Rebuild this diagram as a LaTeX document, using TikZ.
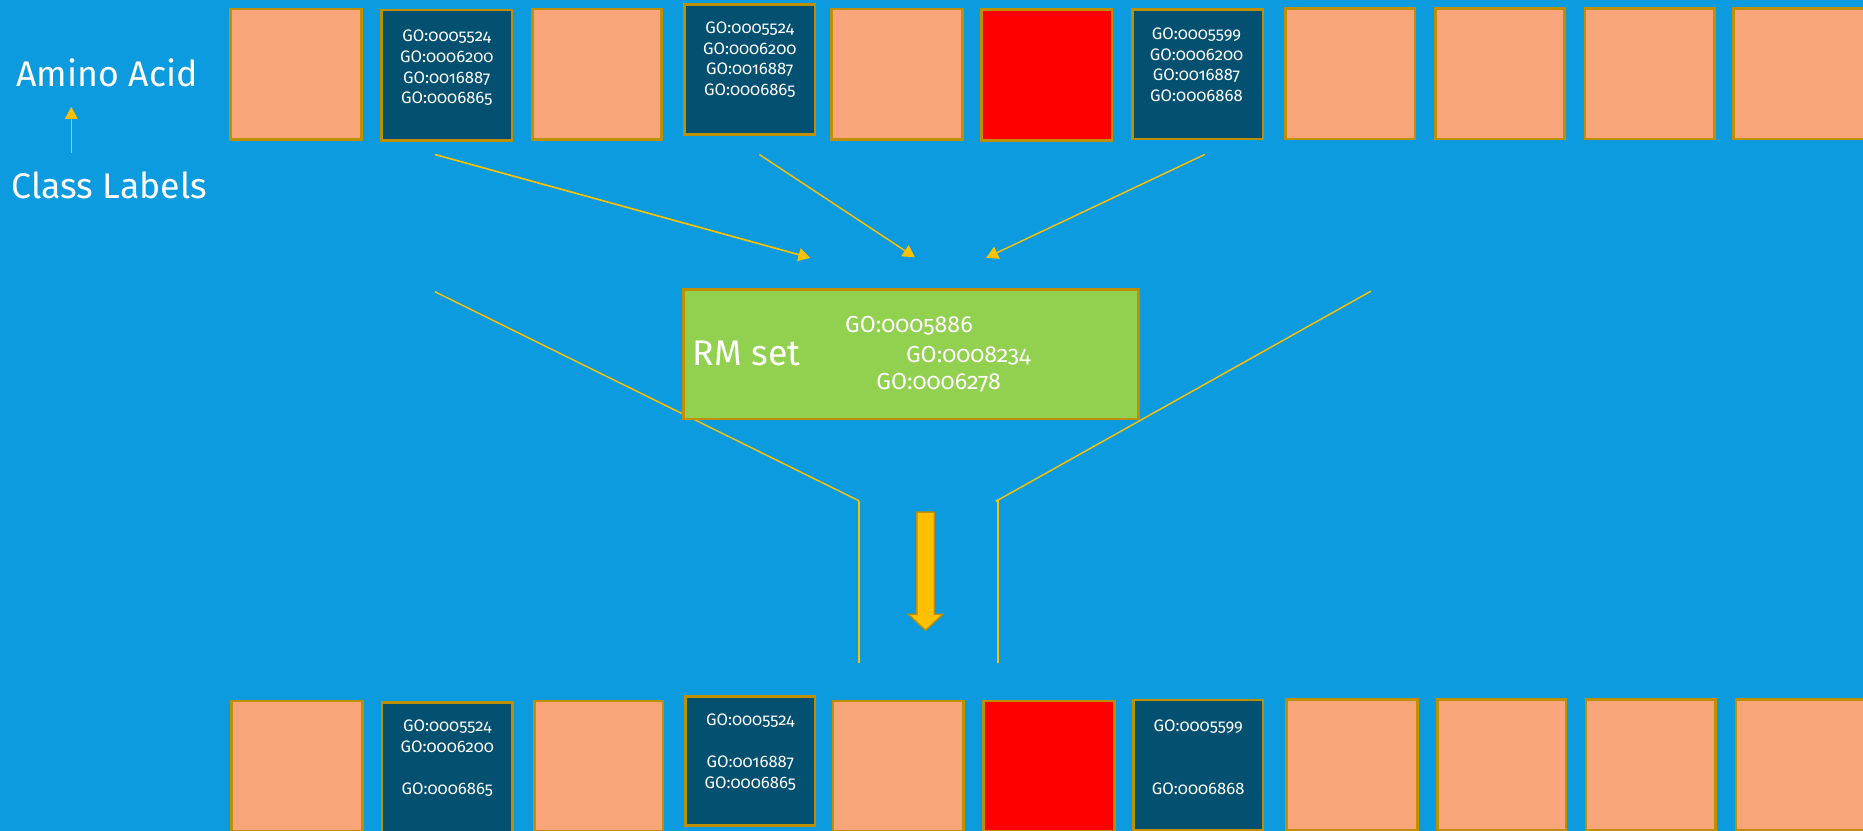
\documentclass[tikz,border=0pt]{standalone}
\usepackage{fontspec}
\setmainfont{Fira Sans}[Numbers=OldStyle]
\usetikzlibrary{arrows.meta,calc}

\definecolor{bg}{RGB}{11,155,222}
\definecolor{frame}{RGB}{191,143,0}
\definecolor{peach}{RGB}{248,165,122}
\definecolor{deep}{RGB}{4,80,112}
\definecolor{lime}{RGB}{146,208,80}
\definecolor{amber}{RGB}{255,192,0}

\tikzset{
  cell/.style={draw=frame, line width=2.2pt, minimum width=110pt, minimum height=110pt,
               anchor=north west, inner sep=0pt, outer sep=0pt},
  plain/.style={cell, fill=peach},
  hit/.style={cell, fill=red},
  annot/.style={cell, fill=deep},
  gotext/.style={font=\fontsize{14}{17.5}\selectfont, text=white, align=center,
                 inner sep=0pt, anchor=north},
  biglabel/.style={font=\fontsize{30}{36}\selectfont, text=white, inner sep=0pt},
  rmgo/.style={font=\fontsize{19.5}{24}\selectfont, text=white, inner sep=0pt, anchor=base},
  feed/.style={amber, line width=1.4pt, -{Triangle[length=10pt,width=11pt]}},
  funnel/.style={amber, line width=1.2pt},
  post/.style={amber, line width=1.8pt},
}

\begin{document}
\begin{tikzpicture}[x=1pt,y=-1pt]
\useasboundingbox (0,0) rectangle (1568,699);
\clip (0,0) rectangle (1568,699);
\fill[bg] (0,0) rectangle (1568,699);

% legend on the left
\node[biglabel, anchor=base] (amino) at (90,73) {Amino Acid};
\node[biglabel, anchor=base] (cls) at (92,167) {Class Labels};
\coordinate (clsTail) at (60,129);
\coordinate (clsTip) at (60,90);
\draw[amber, line width=1.2pt, -{Triangle[length=10pt,width=10.5pt]}] (clsTail) -- (clsTip);

% funnel lines (behind the RM box)
\coordinate (fl0) at (366,245.5);
\coordinate (fl1) at (723,421.5);
\coordinate (fl2) at (723,558);
\coordinate (fr0) at (1154,245);
\coordinate (fr1) at (838,422);
\coordinate (fr1b) at (840,420);
\coordinate (fr2) at (840,558);
\draw[funnel] (fl0) -- (fl1);
\draw[post] (fl1) -- (fl2);
\draw[funnel] (fr0) -- (fr1);
\draw[post] (fr1b) -- (fr2);

% RM set box
\node[draw=frame, fill=lime, line width=2.2pt, minimum width=383pt, minimum height=109pt,
      anchor=north west, inner sep=0pt] (rm) at (574,242.5) {};
\node[biglabel, anchor=base west] (rmname) at (583,308) {RM set};
\node[rmgo] (rmg1) at (765,280) {GO:0005886};
\node[rmgo] (rmg2) at (815,305) {GO:0008234};
\node[rmgo] (rmg3) at (790,328) {GO:0006278};

% arrows feeding the RM set
\coordinate (a1s) at (366,130);
\coordinate (a1e) at (682,217);
\coordinate (a2s) at (639,130);
\coordinate (a2e) at (770,216.5);
\coordinate (a3s) at (1014,130);
\coordinate (a3e) at (830,217);
\draw[feed] (a1s) -- (a1e);
\draw[feed, line width=1.2pt] (a2s) -- (a2e);
\draw[feed, line width=1.2pt] (a3s) -- (a3e);

% downward block arrow
\filldraw[fill=amber, draw=frame, line width=1.2pt]
  (771.7,431) -- (786.3,431) -- (786.3,517) -- (793.5,517) -- (779,530.5)
  -- (764.5,517) -- (771.7,517) -- cycle;

% top sequence
\node[plain] (t1)  at (194,7.5) {};
\node[annot] (t2)  at (321,8.5) {};
\node[plain, minimum width=109pt] (t3)  at (448,7.5) {};
\node[annot, minimum height=109pt] (t4)  at (576,4) {};
\node[plain] (t5)  at (700,7.5) {};
\node[hit]   (t6)  at (826,8) {};
\node[annot, minimum height=109pt] (t7)  at (953,8) {};
\node[plain, minimum width=109pt] (t8)  at (1082,7) {};
\node[plain, minimum width=109pt] (t9)  at (1208,7) {};
\node[plain, minimum width=109pt] (t10) at (1334,7) {};
\node[plain] (t11) at (1459,7) {};

\node[gotext] (t2go) at (376,25) {GO:0005524\\GO:0006200\\GO:0016887\\GO:0006865};
\node[gotext] (t4go) at (631,18) {GO:0005524\\GO:0006200\\GO:0016887\\GO:0006865};
\node[gotext] (t7go) at (1007,23) {GO:0005599\\GO:0006200\\GO:0016887\\GO:0006868};

% bottom sequence
\node[plain] (b1)  at (195,590) {};
\node[annot] (b2)  at (321.5,591) {};
\node[plain, minimum width=108pt] (b3)  at (450,590) {};
\node[annot, minimum width=109pt, minimum height=109pt] (b4)  at (577,586) {};
\node[plain] (b5)  at (701,590) {};
\node[hit]   (b6)  at (828,590) {};
\node[annot, minimum width=109pt] (b7)  at (954,589) {};
\node[plain] (b8)  at (1083,588.5) {};
\node[plain, minimum width=108pt] (b9)  at (1210,588.5) {};
\node[plain, minimum width=109pt] (b10) at (1335,588.5) {};
\node[plain] (b11) at (1461,588.5) {};

\node[gotext] (b2go) at (376.5,606) {GO:0005524\\GO:0006200\\\mbox{}\\GO:0006865};
\node[gotext] (b4go) at (631.5,601) {GO:0005524\\\mbox{}\\GO:0016887\\GO:0006865};
\node[gotext] (b7go) at (1008.5,606) {GO:0005599\\\mbox{}\\\mbox{}\\GO:0006868};
\end{tikzpicture}
\end{document}
